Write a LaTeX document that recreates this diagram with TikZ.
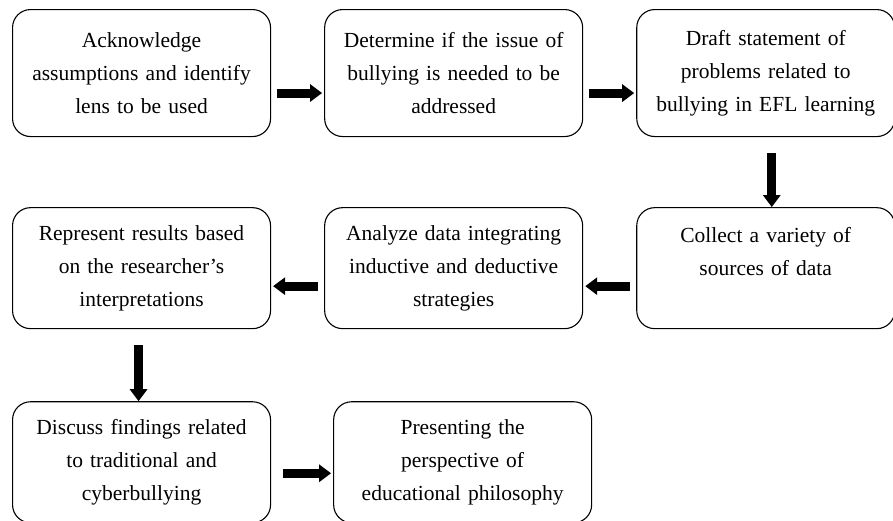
\documentclass[tikz,border=0pt]{standalone}
\usepackage{fontspec}
\setmainfont{Liberation Serif}
\usetikzlibrary{positioning,arrows.meta}

\begin{document}
\begin{tikzpicture}[x=1pt, y=1pt, node distance=70pt and 53pt,
    stage/.style={draw, rounded corners=18pt, line width=1.1pt, text width=246pt,
      inner xsep=6pt, inner ysep=0pt, minimum height=121pt, align=center,
      font=\fontsize{21.5}{33}\selectfont},
    flow/.style={line width=9pt, -{Triangle[width=17pt,length=12pt]}},
    across/.style={flow, shorten <=6pt, shorten >=2pt},
    downward/.style={flow, shorten <=16pt, shorten >=0pt}]
  \useasboundingbox (0,0) rectangle (893,-520);

  \node[stage, anchor=north west, minimum height=127pt] (Acknowledge) at (12,-9)
    {Acknowledge\\assumptions and identify\\lens to be used};
  \node[stage, minimum height=127pt] (Determine) [right=of Acknowledge]
    {Determine if the issue of\\bullying is needed to be\\addressed};
  \node[stage, minimum height=127pt] (Draft) [right=of Determine]
    {Draft statement of\\problems related to\\bullying in EFL learning};
  \node[stage] (Collect) [below=of Draft] {Collect a variety of\\sources of data\\~};
  \node[stage] (Analyze) [left=of Collect]
    {Analyze data integrating\\inductive and deductive\\strategies};
  \node[stage] (Represent) [left=of Analyze]
    {Represent results based\\on the researcher’s\\interpretations};
  \node[stage] (Discuss) [below=72pt of Represent]
    {Discuss findings related\\to traditional and\\cyberbullying};
  \node[stage] (Presenting) [right=62pt of Discuss]
    {Presenting the\\perspective of\\educational philosophy};

  \draw[across] ([yshift=-20pt]Acknowledge.east) -- ([yshift=-20pt]Acknowledge.east -| Determine.west);
  \draw[across] ([yshift=-20pt]Determine.east) -- ([yshift=-20pt]Determine.east -| Draft.west);
  \draw[downward] ([xshift=6pt]Draft.south) -- ([xshift=6pt]Draft.south |- Collect.north);
  \draw[across] ([yshift=-18pt]Collect.west) -- ([yshift=-18pt]Collect.west -| Analyze.east);
  \draw[across] ([yshift=-18pt]Analyze.west) -- ([yshift=-18pt]Analyze.west -| Represent.east);
  \draw[downward] ([xshift=-3pt]Represent.south) -- ([xshift=-3pt]Represent.south |- Discuss.north);
  \draw[across, shorten <=12pt] ([yshift=-11pt]Discuss.east) -- ([yshift=-11pt]Discuss.east -| Presenting.west);
\end{tikzpicture}
\end{document}
